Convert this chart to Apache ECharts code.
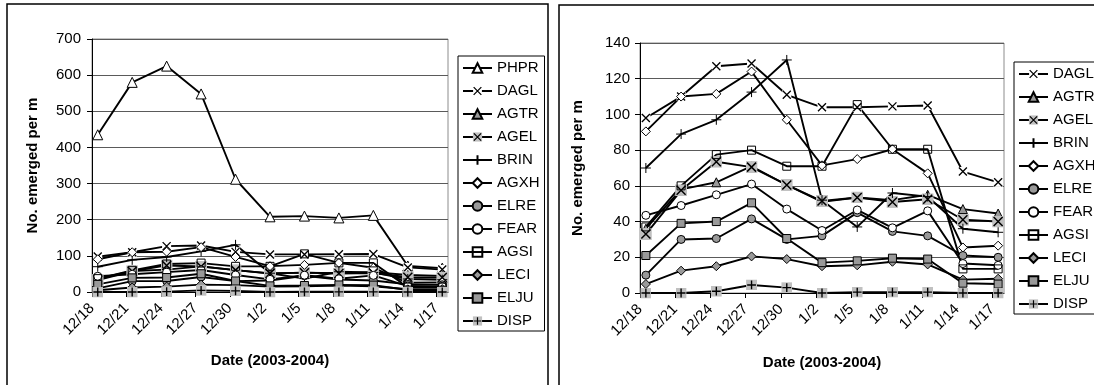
<!DOCTYPE html>
<html>
<head>
<meta charset="utf-8">
<script src="https://cdn.jsdelivr.net/npm/echarts@6/dist/echarts.min.js"></script>
<style>
html,body{margin:0;padding:0;background:#fff;}
#c{width:1094px;height:385px;}
</style>
</head>
<body>
<div id="c"></div>
<script>
// ---- data ----
const sampleDates = ['12/18','12/21','12/24','12/27','12/30','1/2','1/5','1/8','1/11','1/14','1/17'];
const tickLabels  = ['12/18','12/21','12/24','12/27','12/30','1/2','1/5','1/8','1/11','1/14','1/17'];
const leftTicks  = [0,100,200,300,400,500,600,700];
const rightTicks = [0,20,40,60,80,100,120,140];

const PHPR = [435, 580, 625, 548, 312, 208, 210, 205, 212, 72, 66];
const DAGL = [98, 110, 127, 128.5, 111, 104, 104, 104.5, 105, 68, 62];
const AGTR = [36, 58, 62, 71, 60.5, 51, 53.5, 52, 55, 47, 44.5];
const AGEL = [33, 57.5, 73.5, 70.5, 60.5, 51.5, 53.5, 51, 52.5, 41, 40];
const BRIN = [70, 89, 97, 112.5, 130.5, 52, 37, 56, 54, 36, 34];
const AGXH = [90.5, 110, 111.5, 124, 97, 71.5, 75, 80.5, 67, 25.5, 26.5];
const ELRE = [10, 30, 30.5, 41.5, 30, 32, 45, 34.5, 32, 21, 20];
const FEAR = [43.5, 49, 55, 61, 47, 35, 46.5, 36.5, 46, 16.5, 15.5];
const AGSI = [37, 60, 77.5, 80, 71, 71, 105.5, 80.5, 80.5, 13.5, 13.5];
const LECI = [5, 12.5, 15, 20.5, 19, 15, 15.5, 17.5, 16, 7.5, 8];
const ELJU = [21, 39, 40, 50.5, 30.5, 17, 18, 19.5, 19, 5.5, 5];
const DISP = [0, 0, 1, 4.5, 3, 0, 0.5, 0.5, 0.5, 0, 0];

const leftNames  = ['PHPR','DAGL','AGTR','AGEL','BRIN','AGXH','ELRE','FEAR','AGSI','LECI','ELJU','DISP'];
const rightNames = ['DAGL','AGTR','AGEL','BRIN','AGXH','ELRE','FEAR','AGSI','LECI','ELJU','DISP'];
const values = {PHPR, DAGL, AGTR, AGEL, BRIN, AGXH, ELRE, FEAR, AGSI, LECI, ELJU, DISP};

// ---- helpers ----
function dayIndex(s){
  const [m,d] = s.split('/').map(Number);
  const y = m === 12 ? 2003 : 2004;
  return (Date.UTC(y, m-1, d) - Date.UTC(2003, 11, 18)) / 864e5;
}
const tickDays = tickLabels.map(dayIndex);
const labelByDay = {};
tickLabels.forEach((t,i)=>{ labelByDay[tickDays[i]] = t; });

const FONT = "'Liberation Sans', Arial, sans-serif";
const GRAY = '#999999';
const BG = '#c0c0c0';
function svgSym(inner){
  const svg = "<svg xmlns='http://www.w3.org/2000/svg' width='48' height='48' viewBox='0 0 12 12'>" + inner + "</svg>";
  return 'image://data:image/svg+xml;charset=utf-8,' + encodeURIComponent(svg);
}
const SYM_DAGL = svgSym("<rect x='0.5' y='0.5' width='11' height='11' fill='white'/><path d='M1.2,1.2L10.8,10.8M10.8,1.2L1.2,10.8' stroke='black' stroke-width='1.6' fill='none'/>");
const SYM_AGEL = svgSym("<rect width='12' height='12' fill='" + BG + "'/><path d='M1.5,1.5L10.5,10.5M10.5,1.5L1.5,10.5' stroke='black' stroke-width='1.5' fill='none'/>");
const SYM_DISP = svgSym("<rect width='12' height='12' fill='" + BG + "'/><path d='M6,1.2V10.8M1.2,6H10.8' stroke='black' stroke-width='1.5' fill='none'/>");

const styles = {
  PHPR: {symbol:'triangle', size:10, fill:'#fff'},
  DAGL: {symbol:SYM_DAGL, size:10},
  AGTR: {symbol:'triangle', size:9, fill:GRAY},
  AGEL: {symbol:SYM_AGEL, size:12},
  BRIN: {symbol:'path://M5,0L5,10M0,5L10,5', size:10, fill:'none'},
  AGXH: {symbol:'diamond', size:9, fill:'#fff'},
  ELRE: {symbol:'circle', size:8, fill:GRAY},
  FEAR: {symbol:'circle', size:8, fill:'#fff'},
  AGSI: {symbol:'rect', size:8, fill:'transparent'},
  LECI: {symbol:'diamond', size:9, fill:GRAY},
  ELJU: {symbol:'rect', size:8, fill:GRAY},
  DISP: {symbol:SYM_DISP, size:11}
};

function makeSeries(name, gi){
  const st = styles[name];
  return {
    type:'line', name, xAxisIndex:gi, yAxisIndex:gi,
    data: sampleDates.map((s,i)=>[dayIndex(s)+0.5, values[name][i]]),
    symbol: st.symbol, symbolSize: st.size,
    showAllSymbol:true, animation:false, silent:true,
    lineStyle:{color:'#000', width:1.9},
    itemStyle:{color: st.fill || '#000', borderColor:'#000', borderWidth:1},
    emphasis:{disabled:true}
  };
}

function xAxis(gi, nameGap){
  return {
    type:'value', gridIndex:gi, min:0, max:31,
    axisLine:{show:true, lineStyle:{color:'#000', width:1}},
    axisTick:{show:true, inside:false, length:5, customValues:tickDays, lineStyle:{color:'#000'}},
    axisLabel:{show:true, rotate:45, margin:14, customValues:tickDays,
      formatter:(v)=>labelByDay[v] !== undefined ? labelByDay[v] : '',
      fontFamily:FONT, fontSize:15, color:'#000'},
    splitLine:{show:false},
    name:'Date (2003-2004)', nameLocation:'middle', nameGap:nameGap,
    nameTextStyle:{fontFamily:FONT, fontSize:15, fontWeight:'bold', color:'#000'}
  };
}
function yAxis(gi, ticks, nameGap, margin){
  return {
    type:'value', gridIndex:gi, min:ticks[0], max:ticks[ticks.length-1], interval:ticks[1]-ticks[0],
    axisLine:{show:true, lineStyle:{color:'#000', width:1}},
    axisTick:{show:true, inside:false, length:5, lineStyle:{color:'#000'}},
    axisLabel:{margin:margin, fontFamily:FONT, fontSize:15, color:'#000'},
    splitLine:{show:true, lineStyle:{color:'#5a5a5a', width:1}},
    name:'No. emerged per m', nameLocation:'middle', nameRotate:90, nameGap:nameGap,
    nameTextStyle:{fontFamily:FONT, fontSize:15, fontWeight:'bold', color:'#000'}
  };
}
function legend(names, left, top){
  return {
    data:names, orient:'vertical', left:left, top:top,
    itemWidth:29, itemHeight:12, itemGap:7,
    padding:[4,5,2,4],
    borderColor:'#000', borderWidth:1, backgroundColor:'#fff',
    selectedMode:false,
    textStyle:{fontFamily:FONT, fontSize:15, color:'#000', lineHeight:16}
  };
}

const chart = echarts.init(document.getElementById('c'), null, {renderer:'canvas'});
chart.setOption({
  backgroundColor:'#fff',
  animation:false,
  grid:[
    {left:92, top:39, width:356, height:253, show:true, borderColor:'#8c8c8c', borderWidth:1, backgroundColor:'#fff'},
    {left:640, top:43, width:364, height:250, show:true, borderColor:'#8c8c8c', borderWidth:1, backgroundColor:'#fff'}
  ],
  xAxis:[xAxis(0, 61), xAxis(1, 62)],
  yAxis:[yAxis(0, leftTicks, 52, 11), yAxis(1, rightTicks, 55, 10)],
  legend:[legend(leftNames, 458, 56), legend(rightNames, 1014, 62)],
  graphic:[
    {type:'rect', shape:{x:7, y:4, width:541, height:420}, style:{fill:'none', stroke:'#000', lineWidth:1.5}, silent:true, z:100},
    {type:'rect', shape:{x:559, y:5, width:600, height:420}, style:{fill:'none', stroke:'#000', lineWidth:1.5}, silent:true, z:100}
  ],
  series: leftNames.map(n=>makeSeries(n,0)).concat(rightNames.map(n=>makeSeries(n,1)))
});
</script>
</body>
</html>
